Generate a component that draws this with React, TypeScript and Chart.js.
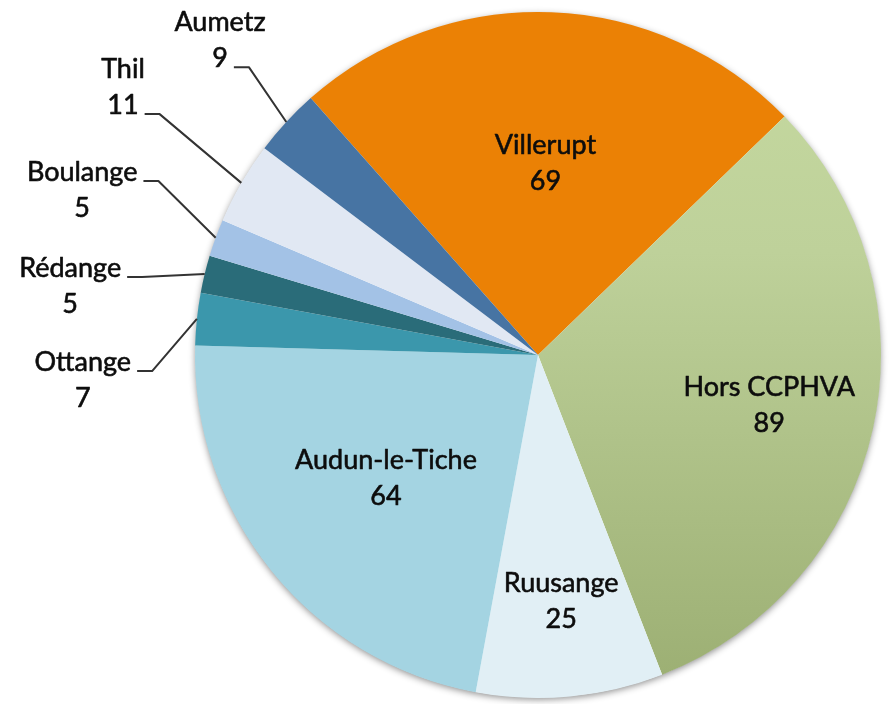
import React, { useEffect, useRef } from "react";
import { Chart, registerables } from "chart.js";

Chart.register(...registerables);

const categories = [
  "Villerupt",
  "Hors CCPHVA",
  "Ruusange",
  "Audun-le-Tiche",
  "Ottange",
  "Rédange",
  "Boulange",
  "Thil",
  "Aumetz",
];
const values = [69, 89, 25, 64, 7, 5, 5, 11, 9];
const colors = [
  "#EB8105",
  "GRADIENT",
  "#E1EFF5",
  "#A4D4E2",
  "#3B97AC",
  "#2A6C79",
  "#A3C2E6",
  "#E1E8F3",
  "#4774A3",
];

// label placement (annotation layout, not data)
type Place =
  | { kind: "in"; f: number }
  | { kind: "out"; dx: number; dy: number; lineIdx: number };
const placements: Place[] = [
  { kind: "in", f: 0.56 },
  { kind: "in", f: 0.69 },
  { kind: "in", f: 0.72 },
  { kind: "in", f: 0.57 },
  { kind: "out", dx: -1.327, dy: 0.073, lineIdx: 0 },
  { kind: "out", dx: -1.364, dy: -0.201, lineIdx: 0 },
  { kind: "out", dx: -1.329, dy: -0.481, lineIdx: 0 },
  { kind: "out", dx: -1.21, dy: -0.781, lineIdx: 1 },
  { kind: "out", dx: -0.927, dy: -0.918, lineIdx: 1 },
];

const FONT = "27px Lato";
const LINE_GAP = 36;

const shadowPlugin = {
  id: "pieShadow",
  beforeDatasetsDraw(chart: any) {
    const meta = chart.getDatasetMeta(0);
    const arc = meta.data[0];
    if (!arc) return;
    const { x, y, outerRadius } = arc.getProps(["x", "y", "outerRadius"], true);
    const ctx = chart.ctx;
    ctx.save();
    ctx.shadowColor = "rgba(0,0,0,0.45)";
    ctx.shadowBlur = 7;
    ctx.shadowOffsetX = 0;
    ctx.shadowOffsetY = 2;
    ctx.beginPath();
    ctx.arc(x, y, outerRadius - 0.5, 0, Math.PI * 2);
    ctx.fillStyle = "#ffffff";
    ctx.fill();
    ctx.restore();
  },
};

const labelPlugin = {
  id: "pieLabels",
  afterDatasetsDraw(chart: any) {
    const meta = chart.getDatasetMeta(0);
    const ctx = chart.ctx;
    ctx.save();
    ctx.font = FONT;
    ctx.textAlign = "center";
    ctx.textBaseline = "middle";
    meta.data.forEach((arc: any, i: number) => {
      const { x, y, startAngle, endAngle, outerRadius } = arc.getProps(
        ["x", "y", "startAngle", "endAngle", "outerRadius"],
        true
      );
      const mid = (startAngle + endAngle) / 2;
      const lines = [categories[i], String(values[i])];
      const p = placements[i];
      let cx: number, cy: number;
      if (p.kind === "in") {
        cx = x + Math.cos(mid) * outerRadius * p.f;
        cy = y + Math.sin(mid) * outerRadius * p.f;
      } else {
        cx = x + p.dx * outerRadius;
        cy = y + p.dy * outerRadius;
        const ax = x + Math.cos(mid) * outerRadius;
        const ay = y + Math.sin(mid) * outerRadius;
        const lineCenter = cy + (p.lineIdx === 0 ? -LINE_GAP / 2 : LINE_GAP / 2);
        const ly = lineCenter + 9;
        const w = ctx.measureText(lines[p.lineIdx]).width;
        const sx = cx + w / 2 + 6;
        const ex = sx + 15;
        ctx.strokeStyle = "#333333";
        ctx.lineWidth = 2;
        ctx.beginPath();
        ctx.moveTo(sx, ly);
        ctx.lineTo(ex, ly);
        ctx.lineTo(ax, ay);
        ctx.stroke();
      }
      ctx.fillStyle = "#0d0d0d";
      ctx.strokeStyle = "#0d0d0d";
      ctx.lineWidth = 0.6;
      ctx.lineJoin = "round";
      ctx.fillText(lines[0], cx, cy - LINE_GAP / 2);
      ctx.strokeText(lines[0], cx, cy - LINE_GAP / 2);
      ctx.fillText(lines[1], cx, cy + LINE_GAP / 2);
      ctx.strokeText(lines[1], cx, cy + LINE_GAP / 2);
    });
    ctx.restore();
  },
};

export default function App() {
  const ref = useRef<HTMLCanvasElement | null>(null);
  useEffect(() => {
    document.body.style.margin = "0";
    const canvas = ref.current;
    if (!canvas) return;
    const chart = new Chart(canvas, {
      type: "pie",
      data: {
        labels: categories,
        datasets: [
          {
            data: values,
            backgroundColor: (c: any) => {
              const col = colors[c.dataIndex];
              if (col !== "GRADIENT") return col;
              const area = c.chart.chartArea;
              if (!area) return "#B3C68A";
              const g = c.chart.ctx.createLinearGradient(0, area.top, 0, area.bottom);
              g.addColorStop(0, "#C6DAA0");
              g.addColorStop(0.35, "#BED19A");
              g.addColorStop(1, "#9BAE72");
              return g;
            },
            borderWidth: 0,
            hoverBorderWidth: 0,
            hoverOffset: 0,
          },
        ],
      },
      options: {
        responsive: false,
        animation: false,
        rotation: -41.5,
        layout: { padding: { left: 195, right: 11, top: 12, bottom: 6 } },
        plugins: {
          legend: { display: false },
          tooltip: { enabled: false },
        },
        events: [],
      },
      plugins: [shadowPlugin, labelPlugin],
    });
    return () => chart.destroy();
  }, []);
  return (
    <div style={{ position: "absolute", left: 0, top: 0, width: 892, height: 704, background: "#fff" }}>
      <canvas ref={ref} width={892} height={704} />
    </div>
  );
}
